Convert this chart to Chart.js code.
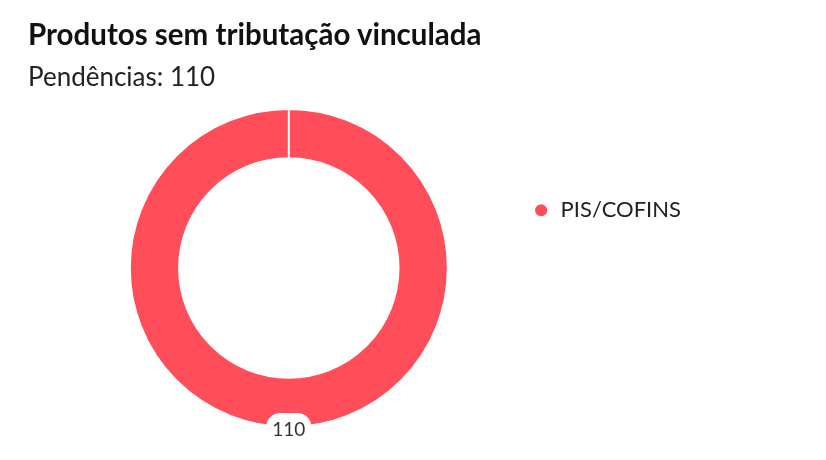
<!DOCTYPE html>
<html>
<head>
<meta charset="utf-8">
<script src="https://cdn.jsdelivr.net/npm/chart.js@4.4.1/dist/chart.umd.min.js"></script>
<style>
  html, body { margin: 0; padding: 0; background: #ffffff; }
  #wrap { position: relative; width: 826px; height: 460px; overflow: hidden; }
  #title { position: absolute; left: 28px; top: 16px; font: 700 29.5px/35px Lato, sans-serif; color: #111111; white-space: nowrap; }
  #subtitle { position: absolute; left: 28px; top: 61px; font: 400 26px/31px Lato, sans-serif; color: #222222; white-space: nowrap; }
  #chart { position: absolute; left: 0; top: 0; }
</style>
</head>
<body>
<div id="wrap">
  <canvas id="chart" width="826" height="460"></canvas>
  <div id="title">Produtos sem tributação vinculada</div>
  <div id="subtitle">Pendências: 110</div>
</div>
<script>
const categories = ['PIS/COFINS'];
const values = [110];
const colors = ['#FF4D5A'];

const valueLabelPlugin = {
  id: 'valueLabel',
  afterDatasetsDraw(chart) {
    const ctx = chart.ctx;
    chart.getDatasetMeta(0).data.forEach((arc, i) => {
      const p = arc.getProps(['x', 'y', 'startAngle', 'endAngle', 'outerRadius'], true);
      const mid = (p.startAngle + p.endAngle) / 2;
      const cx = p.x + Math.cos(mid) * p.outerRadius;
      const cy = p.y + Math.sin(mid) * p.outerRadius + 2;
      const text = String(chart.data.datasets[0].data[i]);
      ctx.save();
      ctx.font = '400 19px Lato, sans-serif';
      const w = ctx.measureText(text).width + 12;
      const h = 32;
      ctx.fillStyle = '#ffffff';
      ctx.beginPath();
      ctx.roundRect(cx - w / 2, cy - h / 2, w, h, 14);
      ctx.fill();
      ctx.fillStyle = '#333333';
      ctx.textAlign = 'center';
      ctx.textBaseline = 'middle';
      ctx.fillText(text, cx, cy + 1);
      ctx.restore();
    });
  }
};

new Chart(document.getElementById('chart'), {
  type: 'doughnut',
  data: {
    labels: categories,
    datasets: [{
      data: values,
      backgroundColor: colors,
      borderColor: '#ffffff',
      borderWidth: 2,
      hoverOffset: 0
    }]
  },
  options: {
    responsive: false,
    animation: false,
    cutout: '69%',
    layout: { padding: { top: 108, bottom: 32, left: 55, right: 135 } },
    plugins: {
      tooltip: { enabled: false },
      legend: {
        position: 'right',
        align: 'start',
        title: { display: true, text: '', font: { size: 1 }, padding: { top: 80, bottom: 0 } },
        labels: {
          usePointStyle: true,
          pointStyle: 'circle',
          boxWidth: 17,
          boxHeight: 10,
          padding: 10,
          color: '#222222',
          font: { family: 'Lato', size: 22 }
        }
      }
    }
  },
  plugins: [valueLabelPlugin]
});
</script>
</body>
</html>
